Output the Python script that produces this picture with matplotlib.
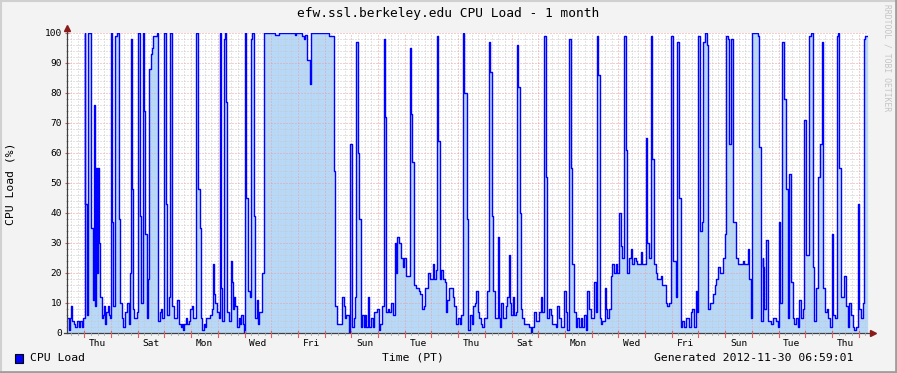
import matplotlib
matplotlib.use("Agg")
import matplotlib.pyplot as plt
from matplotlib.patches import Rectangle
from matplotlib.lines import Line2D
import numpy as np

# ---------------- data (hours since graph start, CPU load %) ----------------
hours = [0.0, 1.8, 2.7, 3.6, 4.5, 6.3, 7.2, 9.0, 10.8, 11.7, 13.5, 14.4, 15.9, 16.5, 18.3, 19.2,
         21.6, 23.1, 24.6, 25.5, 25.8, 27.0, 28.2, 28.8, 30.0, 31.2, 32.4, 33.3, 34.2, 35.1, 36.6,
         37.5, 38.7, 39.3, 40.2, 41.7, 43.5, 45.0, 47.1, 48.0, 49.5, 50.4, 52.2, 53.7, 55.5, 56.7,
         57.6, 58.5, 59.7, 60.6, 63.3, 64.2, 65.4, 66.6, 68.1, 69.0, 70.5, 71.7, 73.2, 74.1, 75.6,
         76.8, 77.7, 80.7, 81.6, 83.7, 84.6, 85.8, 87.6, 88.8, 90.0, 91.8, 93.0, 94.5, 96.0, 98.7,
         100.5, 102.3, 103.5, 104.4, 105.3, 107.1, 108.3, 109.8, 111.0, 112.2, 113.4, 116.4, 118.2,
         119.7, 120.6, 121.2, 122.7, 123.6, 125.1, 128.7, 130.2, 131.4, 132.3, 133.2, 135.0, 136.2,
         137.1, 137.7, 138.6, 139.2, 140.7, 141.6, 142.5, 143.7, 145.5, 147.0, 147.6, 148.2, 149.1,
         150.0, 151.2, 152.4, 154.2, 155.7, 156.6, 157.8, 159.0, 160.2, 161.1, 162.6, 164.4, 165.0,
         166.2, 168.0, 169.2, 170.7, 171.6, 172.8, 175.2, 176.7, 187.2, 190.2, 205.2, 206.1, 211.2,
         212.7, 214.2, 216.0, 218.7, 219.6, 235.2, 239.7, 241.2, 242.7, 247.2, 248.7, 249.6, 251.1,
         253.2, 254.7, 256.2, 257.7, 258.6, 260.1, 261.3, 262.5, 264.3, 265.5, 266.7, 267.9, 269.1,
         270.6, 271.5, 273.3, 274.8, 275.7, 278.7, 280.2, 281.7, 283.2, 284.7, 286.2, 287.1, 288.3,
         289.5, 291.3, 293.1, 294.6, 295.8, 296.7, 298.8, 300.3, 302.1, 303.3, 304.5, 308.1, 309.3,
         310.2, 311.7, 314.1, 316.5, 317.7, 319.5, 320.7, 322.2, 324.9, 326.1, 329.1, 330.3, 331.5,
         332.7, 333.9, 335.1, 336.6, 337.8, 339.6, 340.8, 341.7, 343.2, 346.8, 348.3, 349.5, 351.3,
         353.1, 354.3, 356.1, 357.3, 359.4, 360.0, 360.6, 361.8, 363.6, 364.8, 366.3, 367.8, 369.0,
         370.2, 371.7, 373.2, 374.7, 377.7, 378.9, 380.1, 381.9, 383.1, 384.3, 387.0, 387.9, 389.1,
         390.3, 391.5, 394.5, 395.7, 396.9, 397.8, 399.0, 400.5, 401.4, 403.2, 404.1, 405.3, 406.8,
         407.7, 408.6, 410.7, 415.2, 416.7, 418.2, 419.7, 421.2, 424.2, 425.7, 427.2, 428.7, 430.2,
         431.4, 433.2, 434.7, 436.2, 439.2, 440.7, 442.2, 443.7, 446.7, 448.2, 449.7, 450.9, 452.7,
         454.2, 455.7, 457.2, 458.7, 460.2, 461.7, 463.2, 464.7, 466.2, 467.7, 469.2, 470.7, 473.7,
         475.2, 476.1, 477.3, 478.8, 480.3, 481.2, 483.3, 484.2, 485.7, 487.2, 488.7, 490.2, 491.7,
         493.2, 494.7, 496.2, 497.7, 499.2, 500.7, 502.2, 503.7, 505.2, 506.7, 508.2, 509.7, 511.2,
         512.7, 515.7, 517.2, 520.2, 521.7, 523.2, 524.7, 526.2, 527.7, 529.2, 530.7, 533.7, 535.2,
         538.2, 539.7, 541.2, 543.3, 544.8, 547.5, 548.7, 550.2, 551.7, 553.2, 554.7, 556.2, 559.2,
         560.7, 562.2, 563.7, 565.2, 566.7, 567.6, 569.1, 570.6, 571.8, 573.3, 575.1, 576.3, 577.8,
         580.8, 582.3, 583.8, 585.3, 586.8, 589.8, 591.3, 592.8, 594.0, 595.5, 596.7, 599.1, 601.2,
         602.7, 607.2, 608.7, 612.3, 613.2, 614.4, 615.6, 620.7, 622.2, 623.7, 625.2, 625.8, 626.7,
         628.2, 629.7, 632.7, 634.8, 637.2, 638.7, 640.2, 641.1, 642.6, 644.1, 646.2, 647.7, 649.2,
         650.7, 652.2, 653.7, 655.2, 656.7, 658.2, 659.7, 661.2, 662.7, 664.2, 667.2, 668.7, 670.2,
         671.7, 673.2, 674.7, 676.8, 678.6, 679.8, 681.3, 682.8, 684.3, 685.8, 687.3, 688.8, 690.0,
         691.8, 693.0, 694.2, 695.7, 698.7, 700.2, 701.7, 703.2, 704.7, 706.2, 707.7, 709.2, 710.7,
         712.2, 713.7, 715.2, 716.1, 717.3, 719.7]

load = [5, 1, 5, 9, 4, 3, 2, 4, 2, 4, 2, 5, 100, 43, 6, 100,
        35, 11, 76, 9, 55, 20, 55, 30, 12, 5, 6, 9, 3, 7, 9,
        6, 5, 100, 37, 9, 99, 100, 38, 10, 5, 2, 7, 10, 3, 20,
        98, 48, 8, 5, 7, 100, 39, 10, 100, 74, 33, 5, 18, 88, 93,
        95, 99, 100, 4, 7, 8, 5, 100, 43, 6, 12, 100, 9, 5, 11,
        3, 2, 3, 1, 3, 5, 3, 4, 8, 9, 5, 100, 48,
        35, 5, 1, 3, 2, 5, 6, 8, 23, 13, 10, 7, 5,
        40, 100, 15, 4, 98, 100, 77, 7, 4, 12, 24, 17, 8,
        12, 9, 2, 5, 3, 6, 3, 0, 100, 45, 14, 12, 98,
        100, 39, 5, 11, 3, 7, 20, 100, 99.5, 100, 99.5, 100, 99,
        98, 99.5, 91, 83, 100, 99, 54, 9, 3, 12, 9, 5, 6,
        0, 63, 2, 5, 12, 97, 60, 38, 2, 6, 2, 6, 2,
        12, 2, 5, 2, 7, 8, 1, 3, 9, 98, 72, 7, 8,
        7, 10, 6, 30, 20, 32, 30, 25, 22, 25, 19, 95, 73,
        57, 16, 15, 14, 13, 8, 9, 15, 20, 18, 23, 18, 21,
        99, 64, 18, 21, 18, 17, 7, 11, 15, 12, 9, 3, 5,
        3, 6, 100, 80, 38, 18, 1, 6, 3, 9, 10, 14, 7,
        5, 3, 2, 5, 14, 97, 87, 39, 14, 5, 32, 5, 2,
        10, 5, 9, 12, 26, 10, 6, 12, 6, 7, 96, 82, 40,
        8, 5, 3, 2, 0, 2, 7, 4, 7, 12, 7, 99, 52,
        5, 8, 6, 3, 2, 9, 5, 2, 14, 7, 1, 98, 55,
        23, 7, 2, 5, 2, 5, 2, 6, 1, 14, 8, 5, 17,
        7, 99, 86, 5, 3, 4, 15, 8, 5, 8, 19, 23, 20,
        23, 20, 40, 29, 25, 99, 61, 20, 25, 28, 23, 25, 24,
        23, 27, 23, 65, 30, 25, 99, 58, 23, 20, 18, 19, 16,
        10, 9, 10, 99, 24, 12, 97, 45, 2, 4, 2, 5, 2,
        7, 8, 2, 14, 7, 99, 34, 37, 97, 100, 96, 8, 10,
        13, 16, 18, 22, 20, 25, 33, 99, 98, 63, 98, 37, 25,
        23, 24, 23, 28, 18, 5, 100, 99, 62, 4, 25, 22, 8,
        31, 4, 3, 5, 4, 2, 37, 10, 97, 78, 48, 5, 53,
        17, 5, 3, 5, 2, 11, 5, 8, 71, 26, 99, 100, 22,
        4, 15, 52, 63, 97, 15, 7, 8, 5, 2, 33, 6, 5,
        99, 100, 55, 12, 19, 9, 2, 10, 6, 2, 1, 2, 43,
        8, 5, 10, 98, 99, 99]

day_names = ["Thu", "Sat", "Mon", "Wed", "Fri", "Sun", "Tue", "Thu",
             "Sat", "Mon", "Wed", "Fri", "Sun", "Tue", "Thu"]
first_midnight_h = 15.6
span_h = 720.0
y_ticks = list(range(0, 101, 10))

title = "efw.ssl.berkeley.edu CPU Load - 1 month"
ylabel = "CPU Load (%)"
xlabel = "Time (PT)"
legend_label = "CPU Load"
generated = "Generated 2012-11-30 06:59:01"
watermark = "RRDTOOL / TOBI OETIKER"

# ---------------- style ----------------
W, H = 897, 373
BG = "#F3F3F3"
AREA = "#B8D8F8"
LINE = "#0000FF"
MINOR = "#C8C8C8"
MAJOR = "#EE9C9C"
ARROW = "#8B1A1A"
MONO = "DejaVu Sans Mono"

fig = plt.figure(figsize=(W / 100, H / 100), dpi=100, facecolor=BG)
L, R, T, B = 67, 868, 33, 333
ax = fig.add_axes([L / W, (H - B) / H, (R - L) / W, (B - T) / H])
ax.set_facecolor("white")

t = np.array(hours)
v = np.array(load)
ax.fill_between(t, 0, v, step="post", color=AREA, linewidth=0, zorder=1)
ax.step(t, v, where="post", color=LINE, linewidth=1.0, zorder=3)

ax.set_xlim(0, span_h)
ax.set_ylim(0, 100)

dots = (0, (1, 2))
# horizontal grid (drawn over the area, under the line)
for y in range(2, 101, 2):
    c = MAJOR if y % 10 == 0 else MINOR
    ax.axhline(y, color=c, lw=0.72, linestyle=dots, zorder=2)
# vertical grid
six_h = []
h = first_midnight_h - 12
while h < span_h:
    if h > 0:
        six_h.append(h)
        k = (h - first_midnight_h) / 24
        is_major = abs(k - round(k)) < 1e-6
        ax.axvline(h, color=MAJOR if is_major else MINOR, lw=0.72, linestyle=dots, zorder=2)
    h += 6

for s in ax.spines.values():
    s.set_visible(False)

# axes lines with arrows
ax.add_line(Line2D([0, 0], [0, 1.012], transform=ax.transAxes, color="#404040", lw=0.9,
                   clip_on=False, zorder=5))
ax.add_line(Line2D([-0.004, 1.004], [0, 0], transform=ax.transAxes, color="#404040", lw=0.9,
                   clip_on=False, zorder=5))
ax.plot([0], [1.018], marker="^", ms=4.5, color=ARROW, transform=ax.transAxes, clip_on=False, zorder=6)
ax.plot([1.006], [0], marker=">", ms=4.5, color=ARROW, transform=ax.transAxes, clip_on=False, zorder=6)

# ticks
ax.set_yticks(y_ticks)
ax.set_yticklabels([str(y) for y in y_ticks], fontfamily=MONO, fontsize=6.8)
ax.tick_params(axis="y", length=3, width=0.8, color="#C06060", direction="inout", pad=2)
ax.set_yticks(range(0, 101, 2), minor=True)
ax.tick_params(axis="y", which="minor", length=2, width=0.6, color="#A0A0A0", direction="inout")

label_pos = [first_midnight_h + 12 + 48 * k for k in range(len(day_names))]
ax.set_xticks(label_pos)
ax.set_xticklabels(day_names, fontfamily=MONO, fontsize=6.8)
ax.tick_params(axis="x", length=0, pad=4)
xt = ax.get_xaxis_transform()
for m in six_h:
    k = (m - first_midnight_h) / 24
    if abs(k - round(k)) < 1e-6:
        ax.add_line(Line2D([m, m], [-0.013, 0.006], transform=xt, color="#E06060",
                           lw=0.8, clip_on=False, zorder=5))
    else:
        ax.add_line(Line2D([m, m], [-0.008, 0.0], transform=xt, color="#A8A8A8",
                           lw=0.6, clip_on=False, zorder=5))

# texts
fig.text(0.5, 1 - 14 / H, title, ha="center", va="center", fontfamily=MONO, fontsize=9.3)
fig.text(11 / W, 1 - 184 / H, ylabel, rotation=90, ha="center", va="center", fontfamily=MONO, fontsize=8.2)
fig.text(413 / W, 1 - 358 / H, xlabel, ha="center", va="center", fontfamily=MONO, fontsize=8.2)
fig.text(853 / W, 1 - 358 / H, generated, ha="right", va="center", fontfamily=MONO, fontsize=8.2)
fig.text(30 / W, 1 - 358 / H, legend_label, ha="left", va="center", fontfamily=MONO, fontsize=8.2)
fig.patches.append(Rectangle((15 / W, 1 - 363 / H), 8 / W, 9 / H, transform=fig.transFigure,
                             facecolor=LINE, edgecolor="black", lw=0.8))
fig.text(887 / W, 1 - 58 / H, watermark, rotation=270, ha="center", va="center", fontfamily=MONO,
         fontsize=5.8, color="#C4C4C4")

# shadow border
fig.add_artist(Line2D([0, 1], [1 - 1 / H, 1 - 1 / H], transform=fig.transFigure, color="#D0D0D0", lw=1.5))
fig.add_artist(Line2D([1 / W, 1 / W], [0, 1], transform=fig.transFigure, color="#D0D0D0", lw=1.5))
fig.add_artist(Line2D([0, 1], [1.5 / H, 1.5 / H], transform=fig.transFigure, color="#9E9E9E", lw=2))
fig.add_artist(Line2D([1 - 1.5 / W, 1 - 1.5 / W], [0, 1], transform=fig.transFigure, color="#9E9E9E", lw=2))

fig.savefig("out.png", dpi=100, facecolor=BG)
